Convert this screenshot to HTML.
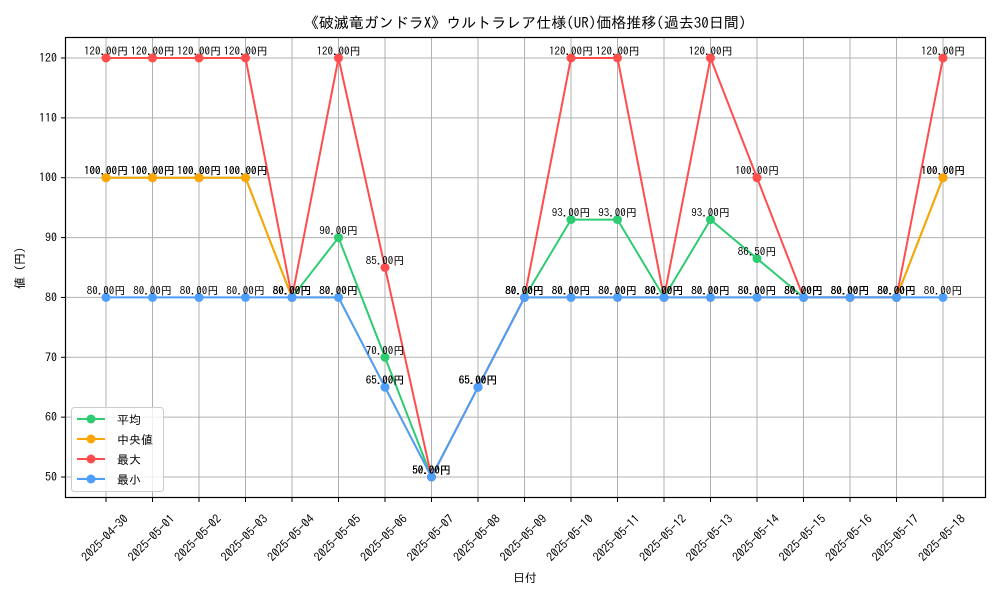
<!DOCTYPE html>
<html><head><meta charset="utf-8"><style>
body{margin:0;background:#fff}
svg text{font-family:"IPAGothic","Liberation Sans","Noto Sans CJK JP",sans-serif}
</style></head><body>
<svg id="chart" width="1000" height="600" xmlns="http://www.w3.org/2000/svg">
<rect width="1000" height="600" fill="#fff"/>
<text x="525" y="28" font-size="15" text-anchor="middle">《破滅竜ガンドラX》ウルトラレア仕様(UR)価格推移(過去30日間)</text>
<g id="grid"></g>
<g id="series"></g>
<g id="labels"></g>
<rect x="65.5" y="37.5" width="920" height="460" fill="none" stroke="#000" stroke-width="1.2"/>
<g id="ticks"></g>
<text x="525" y="582" font-size="12" text-anchor="middle">日付</text>
<text transform="translate(24,268) rotate(-90)" font-size="12" text-anchor="middle">値 (円)</text>
<g id="legend"></g>
</svg>
<script>
const dates=["2025-04-30","2025-05-01","2025-05-02","2025-05-03","2025-05-04","2025-05-05","2025-05-06","2025-05-07","2025-05-08","2025-05-09","2025-05-10","2025-05-11","2025-05-12","2025-05-13","2025-05-14","2025-05-15","2025-05-16","2025-05-17","2025-05-18"];
const avgVals=[100,100,100,100,80,90,70,50,65,80,93,93,80,93,86.5,80,80,80,100];
const medVals=[100,100,100,100,80,80,65,50,65,80,80,80,80,80,80,80,80,80,100];
const maxVals=[120,120,120,120,80,120,85,50,65,80,120,120,80,120,100,80,80,80,120];
const minVals=[80,80,80,80,80,80,65,50,65,80,80,80,80,80,80,80,80,80,80];
const yTicks=[50,60,70,80,90,100,110,120];
const NS="http://www.w3.org/2000/svg";
function X(i){return 106+i*(943-106)/(dates.length-1);}
function Y(v){return 477-(v-50)*(477-58)/70;}
function mk(tag,attrs,parent,txt){const e=document.createElementNS(NS,tag);for(const k in attrs)e.setAttribute(k,attrs[k]);if(txt!==undefined)e.textContent=txt;parent.appendChild(e);return e;}
const grid=document.getElementById('grid'),ticks=document.getElementById('ticks');
yTicks.forEach(v=>{
 const g=mk('line',{x1:65.5,x2:985.5,y1:Y(v),y2:Y(v),stroke:'#b0b0b0','stroke-width':1},grid);
 
 
 mk('line',{x1:61,x2:65.5,y1:Y(v),y2:Y(v),stroke:'#000'},ticks);
 const t=mk('text',{x:57,y:Y(v)+4,'font-size':12,'text-anchor':'end'},ticks,String(v));
 
 
});
dates.forEach((d,i)=>{
 const g=mk('line',{x1:X(i),x2:X(i),y1:37.5,y2:497.5,stroke:'#b0b0b0','stroke-width':1},grid);
 
 
 mk('line',{x1:X(i),x2:X(i),y1:497.5,y2:502,stroke:'#000'},ticks);
 const t=mk('text',{transform:`translate(${X(i)-1},538) rotate(-45)`,'font-size':12,'text-anchor':'middle',dy:4},ticks,d);
 
 
});
const series=[["avg","平均",avgVals,"#2ecc71"],["median","中央値",medVals,"#ffa500"],["max","最大",maxVals,"#ff4d4d"],["min","最小",minVals,"#4d9fff"]];
const sg=document.getElementById('series'),lg=document.getElementById('labels');
series.forEach(([key,name,vals,col])=>{
 const p=mk('polyline',{points:vals.map((v,i)=>X(i)+','+Y(v)).join(' '),fill:'none',stroke:col,'stroke-width':2},sg);
 
 
 vals.forEach((v,i)=>{
  const c=mk('circle',{cx:X(i),cy:Y(v),r:4.5,fill:col},sg);
  
  
  const t=mk('text',{x:X(i),y:Y(v)-3,'font-size':11,'text-anchor':'middle'},lg,v.toFixed(2)+'円');
  
  
 });
});
const leg=document.getElementById('legend');
const lb=mk('rect',{x:71.5,y:407.5,width:92,height:84,rx:3,fill:'#fff','fill-opacity':0.8,stroke:'#ccc'},leg);


series.forEach(([key,name,vals,col],k)=>{
 const y=419+k*20;
 mk('line',{x1:77,x2:105,y1:y,y2:y,stroke:col,'stroke-width':2},leg);
 mk('circle',{cx:91,cy:y,r:4.5,fill:col},leg);
 const t=mk('text',{x:117,y:y+5,'font-size':12},leg,name);
 
 
});
</script>
</body></html>
